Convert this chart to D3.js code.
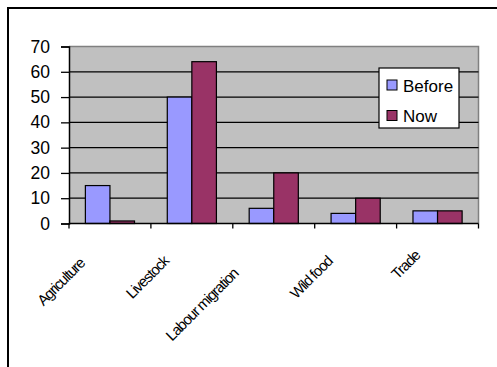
<!DOCTYPE html>
<html>
<head>
<meta charset="utf-8">
<script src="https://cdn.jsdelivr.net/npm/d3@7"></script>
<style>
  html, body { margin: 0; padding: 0; background: #fff; }
  svg { display: block; font-family: "Liberation Sans", Arial, sans-serif; }
</style>
</head>
<body>
<svg id="chart" width="497" height="367"></svg>
<script>
// Livelihood sources, before and now
const categories = ["Agriculture", "Livestock", "Labour migration", "Wild food", "Trade"];
const seriesNames = ["Before", "Now"];
const beforeValues = [15, 50, 6, 4, 5];
const nowValues = [1, 64, 20, 10, 5];
const yTicks = [0, 10, 20, 30, 40, 50, 60, 70];
const seriesColors = ["#9999FF", "#993366"];

const svg = d3.select("#chart");

// outer chart frame (runs past the right and bottom edges)
svg.append("rect")
  .attr("x", 8).attr("y", 8)
  .attr("width", 520).attr("height", 420)
  .attr("fill", "#fff").attr("stroke", "#000").attr("stroke-width", 2);

const plot = { left: 69, right: 478.5, top: 46.5, bottom: 223.5 };

const x = d3.scaleBand()
  .domain(categories)
  .range([plot.left, plot.right])
  .paddingInner(0).paddingOuter(0);

const y = d3.scaleLinear()
  .domain([0, 70])
  .range([plot.bottom, plot.top]);

// bars take 60% of each category slot, centred
const groupWidth = x.bandwidth() * 0.6;
const xs = d3.scaleBand()
  .domain(seriesNames)
  .range([(x.bandwidth() - groupWidth) / 2, (x.bandwidth() + groupWidth) / 2]);

// plot background
svg.append("rect")
  .attr("x", plot.left).attr("y", plot.top)
  .attr("width", plot.right - plot.left).attr("height", plot.bottom - plot.top)
  .attr("fill", "#C0C0C0");
// grey outline on top and right
svg.append("path")
  .attr("d", `M${plot.left},${plot.top}H${plot.right}V${plot.bottom}`)
  .attr("fill", "none").attr("stroke", "#808080").attr("stroke-width", 1.5);

// horizontal gridlines
svg.append("g")
  .selectAll("line")
  .data(yTicks.filter(t => t > 0 && t < 70))
  .join("line")
  .attr("x1", plot.left).attr("x2", plot.right)
  .attr("y1", d => y(d)).attr("y2", d => y(d))
  .attr("stroke", "#000").attr("stroke-width", 1.3);

// bars
const data = categories.map((c, i) => ({ c, vals: [beforeValues[i], nowValues[i]] }));
const groups = svg.append("g").selectAll("g")
  .data(data).join("g")
  .attr("transform", d => `translate(${x(d.c)},0)`);
groups.selectAll("rect")
  .data(d => d.vals.map((v, j) => ({ name: seriesNames[j], v, j })))
  .join("rect")
  .attr("x", d => xs(d.name))
  .attr("width", xs.bandwidth())
  .attr("y", d => y(d.v))
  .attr("height", d => y(0) - y(d.v))
  .attr("fill", d => seriesColors[d.j])
  .attr("stroke", "#000").attr("stroke-width", 1.2);

// y axis
const yAxis = svg.append("g")
  .attr("transform", `translate(${plot.left},0)`)
  .call(d3.axisLeft(y).tickValues(yTicks).tickSize(8).tickPadding(11).tickFormat(d3.format("d")));
yAxis.select(".domain").attr("stroke", "#000").attr("stroke-width", 1.5);
yAxis.selectAll(".tick line").attr("stroke", "#000").attr("stroke-width", 1.3);
yAxis.selectAll("text").attr("font-size", 17.5).attr("fill", "#000")
  .attr("font-family", "'Liberation Sans', Arial, sans-serif");

// x axis: tick marks on category boundaries
const bounds = categories.map(c => x(c)).concat([plot.right]);
svg.append("line")
  .attr("x1", plot.left).attr("x2", plot.right)
  .attr("y1", plot.bottom).attr("y2", plot.bottom)
  .attr("stroke", "#000").attr("stroke-width", 1.5);
svg.append("g").selectAll("line")
  .data(bounds).join("line")
  .attr("x1", d => d).attr("x2", d => d)
  .attr("y1", plot.bottom).attr("y2", plot.bottom + 5)
  .attr("stroke", "#000").attr("stroke-width", 1.3);

// rotated category labels
svg.append("g").selectAll("text")
  .data(categories).join("text")
  .attr("font-size", 15)
  .attr("letter-spacing", "-1.1px")
  .attr("text-anchor", "end")
  .attr("fill", "#000")
  .text(d => d)
  .each(function (d) {
    const w = this.getComputedTextLength();
    const cx = x(d) + x.bandwidth() / 2;
    d3.select(this)
      .attr("x", -0.41 * w)
      .attr("transform", `translate(${cx - 7},${247}) rotate(-45)`);
  });

// legend
const legend = svg.append("g");
legend.append("rect")
  .attr("x", 379).attr("y", 68).attr("width", 80).attr("height", 60)
  .attr("fill", "#fff").attr("stroke", "#000").attr("stroke-width", 1.2);
const items = legend.selectAll("g.item")
  .data(seriesNames).join("g")
  .attr("class", "item")
  .attr("transform", (d, i) => `translate(387,${80 + i * 30.5})`);
items.append("rect")
  .attr("width", 10).attr("height", 10)
  .attr("fill", (d, i) => seriesColors[i])
  .attr("stroke", "#000").attr("stroke-width", 1);
items.append("text")
  .attr("x", 16).attr("y", 11.5)
  .attr("font-size", 17).attr("fill", "#000")
  .text(d => d);
</script>
</body>
</html>
